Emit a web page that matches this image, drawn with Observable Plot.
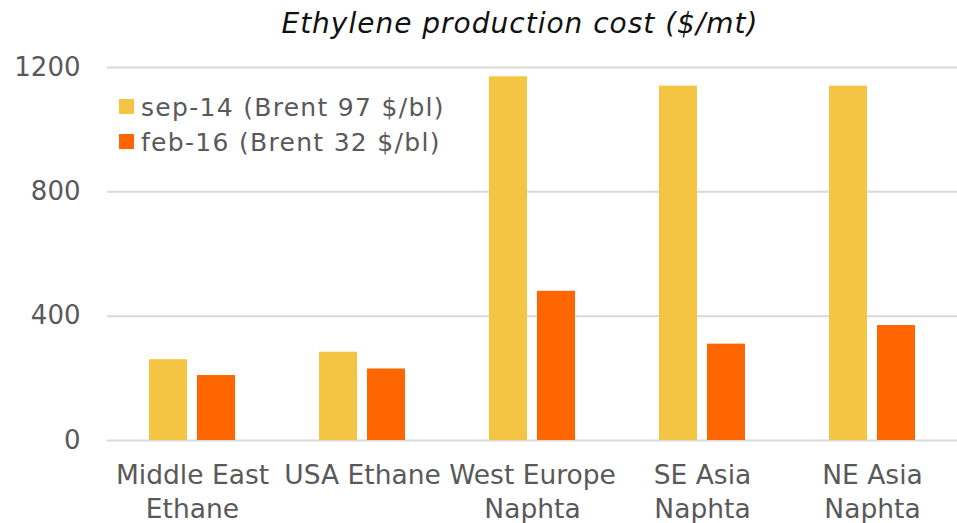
<!DOCTYPE html>
<html>
<head>
<meta charset="utf-8">
<script src="https://cdn.jsdelivr.net/npm/d3@7"></script>
<script src="https://cdn.jsdelivr.net/npm/@observablehq/plot@0.6"></script>
<style>
  html, body { margin: 0; padding: 0; background: #fff; }
  #wrap { position: relative; width: 957px; height: 523px; font-family: "DejaVu Sans", Verdana, sans-serif; }
  #title { position: absolute; left: 0; width: 1040px; text-align: center; top: 8px;
    font-size: 28px; line-height: 1.164; font-style: italic; color: #111; letter-spacing: 1px; white-space: nowrap; }
  .leg { position: absolute; left: 119px; font-size: 25px; line-height: 1.164; color: #595959; white-space: nowrap; letter-spacing: 1.3px; }
  .leg span.sw { position: absolute; left: 0; width: 15px; height: 15px; }
  .leg span.tx { position: absolute; left: 22px; top: 0; }
  #chart { position: absolute; left: 0; top: 0; }
</style>
</head>
<body>
<div id="wrap">
  <div id="chart"></div>
  <div id="title"></div>
  <div id="legend"></div>
</div>
<script>
const titleText = "Ethylene production cost ($/mt)";
const categories = ["Middle East\nEthane", "USA Ethane", "West Europe\nNaphta", "SE Asia\nNaphta", "NE Asia\nNaphta"];
const series = ["sep-14 (Brent 97 $/bl)", "feb-16 (Brent 32 $/bl)"];
const sep14 = [260, 284, 1170, 1140, 1140];
const feb16 = [209, 230, 480, 310, 370];
const yTicks = [0, 400, 800, 1200];
const colors = ["#F4C542", "#FF6600"];

const data = categories.flatMap((c, i) => [
  {category: c, series: series[0], value: sep14[i]},
  {category: c, series: series[1], value: feb16[i]}
]);

const chart = Plot.plot({
  width: 957,
  height: 523,
  marginTop: 67,
  marginBottom: 83,
  marginLeft: 107,
  marginRight: 0,
  style: {fontFamily: "DejaVu Sans", color: "#595959", background: "white", overflow: "visible"},
  fx: {domain: categories, padding: 0, label: null},
  x: {domain: series, paddingInner: 0.217, paddingOuter: 0.847, axis: null},
  y: {domain: [0, 1200], axis: null},
  color: {domain: series, range: colors},
  marks: [
    Plot.gridY(yTicks, {stroke: "#d9d9d9", strokeOpacity: 1, strokeWidth: 2}),
    Plot.barY(data, {fx: "category", x: "series", y: "value", fill: "series"}),
    Plot.axisY(yTicks, {tickSize: 0, tickPadding: 27, fontSize: 26, label: null, fill: "#595959", tickFormat: d => String(d)}),
    Plot.axisFx({anchor: "bottom", tickSize: 0, tickPadding: 20, fontSize: 26.5, lineHeight: 1.26, label: null, fill: "#595959"})
  ]
});
document.getElementById("chart").appendChild(chart);

document.getElementById("title").textContent = titleText;

const legend = document.getElementById("legend");
series.forEach((s, i) => {
  const row = document.createElement("div");
  row.className = "leg";
  row.style.top = (92.8 + i * 35) + "px";
  const sw = document.createElement("span");
  sw.className = "sw";
  sw.style.background = colors[i];
  sw.style.top = "6.5px";
  const tx = document.createElement("span");
  tx.className = "tx";
  tx.textContent = s;
  row.appendChild(sw);
  row.appendChild(tx);
  legend.appendChild(row);
});
</script>
</body>
</html>
